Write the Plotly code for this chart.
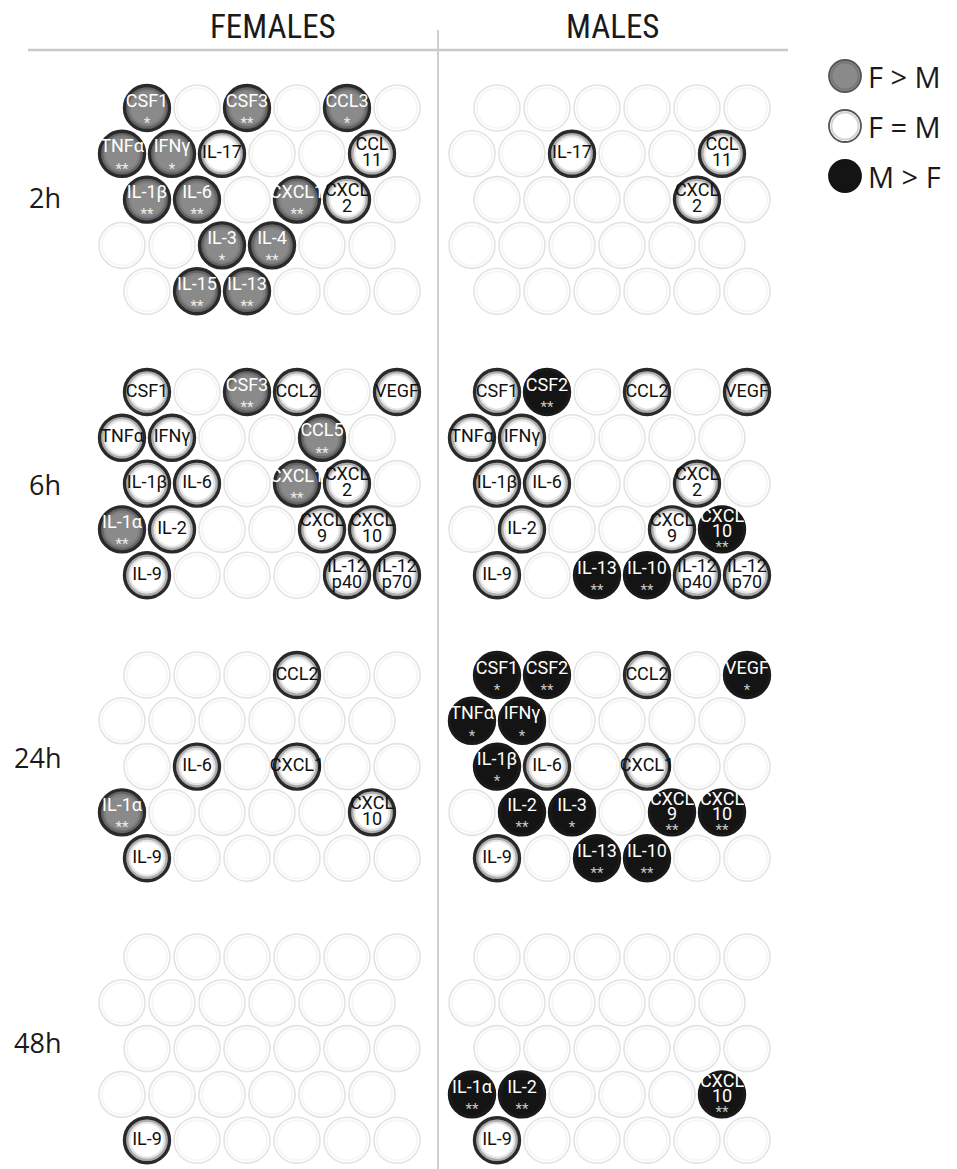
import plotly.graph_objects as go

# Cytokine slots on the hexagonal board (row by row, six per row; "" = unnamed slot)
SLOT_ROWS = [
    ["CSF1", "CSF2", "CSF3", "CCL2", "CCL3", "VEGF"],
    ["TNFα", "IFNγ", "IL-17", "", "CCL5", "CCL\n11"],
    ["IL-1β", "IL-6", "", "CXCL1", "CXCL\n2", ""],
    ["IL-1α", "IL-2", "IL-3", "IL-4", "CXCL\n9", "CXCL\n10"],
    ["IL-9", "IL-15", "IL-13", "IL-10", "IL-12\np40", "IL-12\np70"],
]

TIMEPOINTS = ["2h", "6h", "24h", "48h"]
SEXES = ["FEMALES", "MALES"]
LEGEND_LABELS = ["F > M", "F = M", "M > F"]

# (cytokine, comparison, significance) for each time point and sex
FEMALES_2H = [("CSF1", "F>M", "*"), ("CSF3", "F>M", "**"), ("CCL3", "F>M", "*"),
              ("TNFα", "F>M", "**"), ("IFNγ", "F>M", "*"), ("IL-17", "F=M", ""),
              ("CCL\n11", "F=M", ""), ("IL-1β", "F>M", "**"), ("IL-6", "F>M", "**"),
              ("CXCL1", "F>M", "**"), ("CXCL\n2", "F=M", ""), ("IL-3", "F>M", "*"),
              ("IL-4", "F>M", "**"), ("IL-15", "F>M", "**"), ("IL-13", "F>M", "**")]
MALES_2H = [("IL-17", "F=M", ""), ("CCL\n11", "F=M", ""), ("CXCL\n2", "F=M", "")]

FEMALES_6H = [("CSF1", "F=M", ""), ("CSF3", "F>M", "**"), ("CCL2", "F=M", ""),
              ("VEGF", "F=M", ""), ("TNFα", "F=M", ""), ("IFNγ", "F=M", ""),
              ("CCL5", "F>M", "**"), ("IL-1β", "F=M", ""), ("IL-6", "F=M", ""),
              ("CXCL1", "F>M", "**"), ("CXCL\n2", "F=M", ""), ("IL-1α", "F>M", "**"),
              ("IL-2", "F=M", ""), ("CXCL\n9", "F=M", ""), ("CXCL\n10", "F=M", ""),
              ("IL-9", "F=M", ""), ("IL-12\np40", "F=M", ""), ("IL-12\np70", "F=M", "")]
MALES_6H = [("CSF1", "F=M", ""), ("CSF2", "M>F", "**"), ("CCL2", "F=M", ""),
            ("VEGF", "F=M", ""), ("TNFα", "F=M", ""), ("IFNγ", "F=M", ""),
            ("IL-1β", "F=M", ""), ("IL-6", "F=M", ""), ("CXCL\n2", "F=M", ""),
            ("IL-2", "F=M", ""), ("CXCL\n9", "F=M", ""), ("CXCL\n10", "M>F", "**"),
            ("IL-9", "F=M", ""), ("IL-13", "M>F", "**"), ("IL-10", "M>F", "**"),
            ("IL-12\np40", "F=M", ""), ("IL-12\np70", "F=M", "")]

FEMALES_24H = [("CCL2", "F=M", ""), ("IL-6", "F=M", ""), ("CXCL1", "F=M", ""),
               ("IL-1α", "F>M", "**"), ("CXCL\n10", "F=M", ""), ("IL-9", "F=M", "")]
MALES_24H = [("CSF1", "M>F", "*"), ("CSF2", "M>F", "**"), ("CCL2", "F=M", ""),
             ("VEGF", "M>F", "*"), ("TNFα", "M>F", "*"), ("IFNγ", "M>F", "*"),
             ("IL-1β", "M>F", "*"), ("IL-6", "F=M", ""), ("CXCL1", "F=M", ""),
             ("IL-2", "M>F", "**"), ("IL-3", "M>F", "*"), ("CXCL\n9", "M>F", "**"),
             ("CXCL\n10", "M>F", "**"), ("IL-9", "F=M", ""), ("IL-13", "M>F", "**"),
             ("IL-10", "M>F", "**")]

FEMALES_48H = [("IL-9", "F=M", "")]
MALES_48H = [("IL-1α", "M>F", "**"), ("IL-2", "M>F", "**"), ("CXCL\n10", "M>F", "**"),
             ("IL-9", "F=M", "")]

PANELS = {
    ("2h", "FEMALES"): FEMALES_2H, ("2h", "MALES"): MALES_2H,
    ("6h", "FEMALES"): FEMALES_6H, ("6h", "MALES"): MALES_6H,
    ("24h", "FEMALES"): FEMALES_24H, ("24h", "MALES"): MALES_24H,
    ("48h", "FEMALES"): FEMALES_48H, ("48h", "MALES"): MALES_48H,
}

# ---- geometry of the board (page pixels) ----
W, H = 957, 1169
X0, DX, ODD_SHIFT, SEX_SHIFT = 147, 50, -25, 350
ROW_TOP = {"2h": 108, "6h": 392, "24h": 675, "48h": 957}
DY = 45.8
CIRCLE = 45

FILL = {"F>M": "#8a8a8a", "F=M": "#ffffff", "M>F": "#141414"}
NAME_COLOR = {"F>M": "#ffffff", "F=M": "#111111", "M>F": "#ffffff"}
STAR_COLOR = {"F>M": "#eeeeee", "F=M": "#111111", "M>F": "#c8c8c8"}
LABEL_FONT = "Roboto, 'Open Sans', sans-serif"

slot_of = {}
for r, row in enumerate(SLOT_ROWS):
    for c, name in enumerate(row):
        if name:
            slot_of[name] = (r, c)


def position(t, sex, r, c):
    x = X0 + DX * c + (ODD_SHIFT if r % 2 else 0) + SEX_SHIFT * SEXES.index(sex)
    y = ROW_TOP[t] + DY * r
    return x, y


fig = go.Figure()

# background board: every slot drawn as a faint empty circle
bx, by = [], []
for t in TIMEPOINTS:
    for sex in SEXES:
        for r in range(len(SLOT_ROWS)):
            for c in range(len(SLOT_ROWS[r])):
                x, y = position(t, sex, r, c)
                bx.append(x)
                by.append(y)
fig.add_trace(go.Scatter(
    x=bx, y=by, mode="markers", hoverinfo="skip",
    marker=dict(size=CIRCLE + 1, color="#ffffff",
                line=dict(color="#e3e3e3", width=1.6)),
))
fig.add_trace(go.Scatter(
    x=bx, y=by, mode="markers", hoverinfo="skip",
    marker=dict(size=CIRCLE - 5, color="rgba(0,0,0,0)",
                line=dict(color="rgba(0,0,0,0.035)", width=2)),
))

# measured cytokines
for status in ["F>M", "F=M", "M>F"]:
    cx, cy = [], []
    for (t, sex), items in PANELS.items():
        for name, st, stars in items:
            if st != status:
                continue
            r, c = slot_of[name]
            x, y = position(t, sex, r, c)
            cx.append(x)
            cy.append(y)
    edge = "#2a2a2a" if status != "M>F" else "#1a1a1a"
    fig.add_trace(go.Scatter(
        x=cx, y=cy, mode="markers", hoverinfo="skip",
        marker=dict(size=CIRCLE, color=FILL[status], line=dict(color=edge, width=3.4)),
    ))
    if status != "M>F":
        fig.add_trace(go.Scatter(
            x=cx, y=cy, mode="markers", hoverinfo="skip",
            marker=dict(size=CIRCLE - 5.5, color="rgba(0,0,0,0)",
                        line=dict(color="rgba(40,40,40,0.38)", width=2.4)),
        ))
        fig.add_trace(go.Scatter(
            x=cx, y=cy, mode="markers", hoverinfo="skip",
            marker=dict(size=CIRCLE - 10, color="rgba(0,0,0,0)",
                        line=dict(color="rgba(40,40,40,0.12)", width=2.2)),
        ))

# labels inside the circles
name_x, name_y, name_t, name_c = [], [], [], []
star_x, star_y, star_t, star_c = [], [], [], []
for (t, sex), items in PANELS.items():
    for name, st, stars in items:
        r, c = slot_of[name]
        x, y = position(t, sex, r, c)
        lines = name.split("\n")
        if len(lines) == 1:
            offs = [-6] if stars else [0]
        else:
            offs = [-12, 3] if stars else [-8, 8]
        for ln, off in zip(lines, offs):
            name_x.append(x)
            name_y.append(y + off)
            name_t.append(ln)
            name_c.append(NAME_COLOR[st])
        if stars:
            star_x.append(x)
            star_y.append(y + (19 if len(lines) > 1 else 16))
            star_t.append(stars)
            star_c.append(STAR_COLOR[st])

fig.add_trace(go.Scatter(
    x=name_x, y=name_y, text=name_t, mode="text", hoverinfo="skip",
    textposition="middle center",
    textfont=dict(family=LABEL_FONT, size=18, color=name_c),
))
fig.add_trace(go.Scatter(
    x=star_x, y=star_y, text=star_t, mode="text", hoverinfo="skip",
    textposition="middle center",
    textfont=dict(family=LABEL_FONT, size=15, color=star_c),
))

# legend swatches
LEG_X, LEG_Y0, LEG_DY = 845, 76, 50
leg_status = ["F>M", "F=M", "M>F"]
leg_x = [LEG_X] * len(leg_status)
leg_y = [LEG_Y0 + LEG_DY * i for i in range(len(leg_status))]
fig.add_trace(go.Scatter(
    x=leg_x, y=leg_y, mode="markers", hoverinfo="skip",
    marker=dict(size=32, color=[FILL[s] for s in leg_status],
                line=dict(color=["#555555", "#555555", "#141414"], width=1.8)),
))
fig.add_trace(go.Scatter(
    x=leg_x[:2], y=leg_y[:2], mode="markers", hoverinfo="skip",
    marker=dict(size=27, color="rgba(0,0,0,0)",
                line=dict(color="rgba(60,60,60,0.22)", width=2)),
))

annotations = []
for s, ly in zip(LEGEND_LABELS, leg_y):
    annotations.append(dict(x=866, y=ly, text=s, showarrow=False, xanchor="left",
                            yanchor="middle",
                            font=dict(family="'Open Sans', Roboto, sans-serif",
                                      size=29, color="#1a1a1a")))

# column headers
for sex, hx in zip(SEXES, [273, 612]):
    annotations.append(dict(x=hx, y=26, text=sex, showarrow=False, xanchor="center",
                            yanchor="middle",
                            font=dict(family="'Liberation Sans Narrow', 'Roboto Condensed', Roboto, sans-serif",
                                      size=33, color="#1a1a1a")))

# time point labels
for t, ty in zip(TIMEPOINTS, [197, 484, 757, 1042]):
    annotations.append(dict(x=63, y=ty, text=t, showarrow=False, xanchor="right",
                            yanchor="middle",
                            font=dict(family="'Open Sans', Roboto, sans-serif",
                                      size=27, color="#1a1a1a")))

shapes = [
    dict(type="line", x0=28, x1=788, y0=50, y1=50, line=dict(color="#c8c8c8", width=2.5)),
    dict(type="line", x0=438, x1=438, y0=30, y1=H, line=dict(color="#cfcfcf", width=2)),
]

fig.update_layout(
    width=W, height=H,
    margin=dict(l=0, r=0, t=0, b=0),
    paper_bgcolor="#ffffff", plot_bgcolor="#ffffff",
    showlegend=False,
    xaxis=dict(range=[0, W], visible=False, fixedrange=True),
    yaxis=dict(range=[H, 0], visible=False, fixedrange=True),
    annotations=annotations,
    shapes=shapes,
)
for tr in fig.data:
    tr.cliponaxis = False

fig.write_html("out.html")
